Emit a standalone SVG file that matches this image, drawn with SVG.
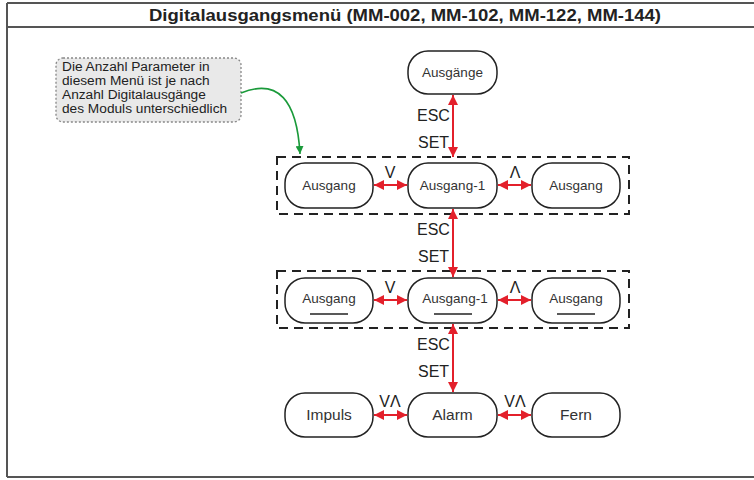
<svg xmlns="http://www.w3.org/2000/svg" width="754" height="480" viewBox="0 0 754 480">
<defs>
<marker id="ra" viewBox="0 0 10 10" refX="10" refY="5" markerWidth="5" markerHeight="5" orient="auto-start-reverse" markerUnits="strokeWidth"><path d="M0,0 L10,5 L0,10 z" fill="#e3202b"/></marker>
<marker id="ga" viewBox="0 0 10 10" refX="10" refY="5" markerWidth="5" markerHeight="5" orient="auto" markerUnits="strokeWidth"><path d="M0,0 L10,5 L0,10 z" fill="#1a9a3a"/></marker>
<style>
.n{fill:#fff;stroke:#222;stroke-width:1.5}
.t{font-family:"Liberation Sans",Arial,sans-serif;font-size:13.5px;fill:#333;text-anchor:middle}
.l{font-family:"Liberation Sans",Arial,sans-serif;font-size:16px;fill:#222}
.c{font-family:"Liberation Sans",Arial,sans-serif;font-size:13.7px;fill:#222}
.a{stroke:#e3202b;stroke-width:2;fill:none;marker-start:url(#ra);marker-end:url(#ra)}
.d{fill:none;stroke:#222;stroke-width:2;stroke-dasharray:9,6}
.u{stroke:#222;stroke-width:1.3}
</style>
</defs>
<rect x="0" y="0" width="754" height="480" fill="#fff"/>
<g id="frame">
<path d="M7,3 H760 M7,27 H760 M7,477 H760 M7,3 V477" fill="none" stroke="#555" stroke-width="2"/>
<text x="405" y="21" font-family="Liberation Sans,Arial,sans-serif" font-size="16" font-weight="bold" fill="#222" text-anchor="middle" textLength="512" lengthAdjust="spacingAndGlyphs">Digitalausgangsmenü (MM-002, MM-102, MM-122, MM-144)</text>
</g>
<g id="note">
<rect x="56" y="58" width="185" height="64" rx="7" fill="#e9e9e9" stroke="#888" stroke-width="1.3" stroke-dasharray="2,2"/>
<text class="c"><tspan x="62" y="71">Die Anzahl Parameter in</tspan><tspan x="62" y="85">diesem Menü ist je nach</tspan><tspan x="62" y="99">Anzahl Digitalausgänge</tspan><tspan x="62" y="113">des Moduls unterschiedlich</tspan></text>
</g>
<g id="groups">
<rect class="d" x="277" y="157" width="352" height="57"/>
<rect class="d" x="277" y="271" width="352" height="57"/>
</g>
<g id="n-ausgaenge"><rect class="n" x="408" y="51" width="89" height="43" rx="20"/><text class="t" x="452.5" y="77">Ausgänge</text></g>
<g id="n-r1a"><rect class="n" x="285" y="163" width="88" height="45" rx="20"/><text class="t" x="329" y="190">Ausgang</text></g>
<g id="n-r1b"><rect class="n" x="408" y="163" width="89" height="45" rx="20"/><text class="t" x="452.5" y="190">Ausgang-1</text></g>
<g id="n-r1c"><rect class="n" x="532" y="163" width="88" height="45" rx="20"/><text class="t" x="576" y="190">Ausgang</text></g>
<g id="n-r2a"><rect class="n" x="285" y="278" width="88" height="45" rx="20"/><text class="t" x="329" y="303">Ausgang</text><line class="u" x1="310" y1="314" x2="348" y2="314"/></g>
<g id="n-r2b"><rect class="n" x="408" y="278" width="89" height="45" rx="20"/><text class="t" x="455" y="303">Ausgang-1</text><line class="u" x1="434" y1="314" x2="472" y2="314"/></g>
<g id="n-r2c"><rect class="n" x="532" y="278" width="88" height="45" rx="20"/><text class="t" x="576" y="303">Ausgang</text><line class="u" x1="557" y1="314" x2="595" y2="314"/></g>
<g id="n-impuls"><rect class="n" x="285" y="393" width="88" height="44" rx="20"/><text class="t" x="329" y="420" style="font-size:15.5px">Impuls</text></g>
<g id="n-alarm"><rect class="n" x="408" y="393" width="89" height="44" rx="20"/><text class="t" x="452.5" y="420" style="font-size:15.5px">Alarm</text></g>
<g id="n-fern"><rect class="n" x="532" y="393" width="88" height="44" rx="20"/><text class="t" x="576" y="420" style="font-size:15.5px">Fern</text></g>
<g id="connectors">
<path d="M241,93 C278,78 297,100 300,154" fill="none" stroke="#1a9a3a" stroke-width="1.6" marker-end="url(#ga)"/>
<line class="a" x1="453" y1="95" x2="453" y2="157"/>
<line class="a" x1="453" y1="209" x2="453" y2="277"/>
<line class="a" x1="453" y1="324" x2="453" y2="392"/>
<line class="a" x1="374" y1="185" x2="407" y2="185"/>
<line class="a" x1="498" y1="185" x2="531" y2="185"/>
<line class="a" x1="374" y1="300" x2="407" y2="300"/>
<line class="a" x1="498" y1="300" x2="531" y2="300"/>
<line class="a" x1="374" y1="415" x2="407" y2="415"/>
<line class="a" x1="498" y1="415" x2="531" y2="415"/>
</g>
<g id="labels">
<text class="l" x="417" y="121">ESC</text>
<text class="l" x="418" y="148">SET</text>
<text class="l" x="417" y="235">ESC</text>
<text class="l" x="418" y="262">SET</text>
<text class="l" x="417" y="350">ESC</text>
<text class="l" x="418" y="377">SET</text>
<text class="l" x="390" y="178" text-anchor="middle">V</text>
<text class="l" x="515" y="178" text-anchor="middle">Λ</text>
<text class="l" x="390" y="293" text-anchor="middle">V</text>
<text class="l" x="515" y="293" text-anchor="middle">Λ</text>
<text class="l" x="390" y="407" text-anchor="middle">VΛ</text>
<text class="l" x="515" y="407" text-anchor="middle">VΛ</text>
</g>
</svg>
